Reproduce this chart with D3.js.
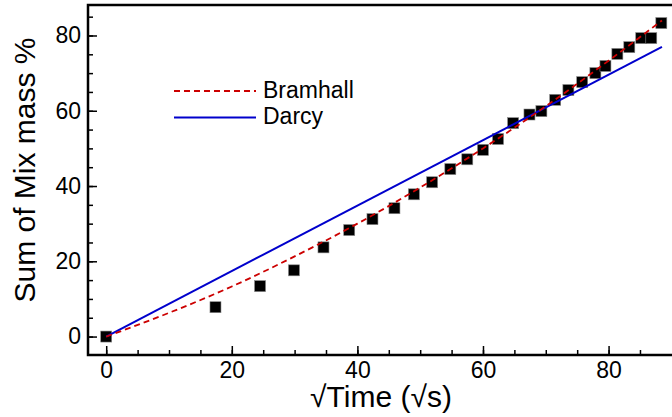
<!DOCTYPE html>
<html>
<head>
<meta charset="utf-8">
<script src="https://cdn.jsdelivr.net/npm/d3@7"></script>
<style>
  body { margin: 0; background: #fff; }
  svg { font-family: "Liberation Sans", Arial, Helvetica, sans-serif; }
</style>
</head>
<body>
<svg id="Target" width="672" height="417"></svg>
<script>
// measured points (√s, %)
const sqrtTime = [0, 17.4, 24.5, 29.9, 34.6, 38.7, 42.4, 45.9, 49.0, 51.9, 54.8, 57.5, 60.0, 62.4, 64.8, 67.4, 69.3, 71.5, 73.6, 75.8, 77.9, 79.5, 81.4, 83.3, 85.2, 86.8, 88.4];
const massPct = [0, 7.8, 13.4, 17.6, 23.7, 28.3, 31.2, 34.1, 37.8, 41.0, 44.5, 47.1, 49.6, 52.5, 56.7, 59.0, 59.9, 62.9, 65.5, 67.6, 70.0, 71.9, 75.1, 76.9, 79.3, 79.3, 83.3];

// model curves
const bramhallX = [0, 10, 20, 30, 40, 50, 60, 70, 80, 88.5];
const bramhallY = [0, 6.3, 13.3, 21.3, 30.0, 39.6, 50.0, 61.2, 73.3, 84.0];
const darcyX = [0, 88.5];
const darcyY = [0, 77.0];

const xTicks = [0, 20, 40, 60, 80];
const yTicks = [0, 20, 40, 60, 80];
const minorTicks = d3.range(0, 90, 5);

const legendNames = ["Bramhall", "Darcy"];

const svg = d3.select("#Target");

const x = d3.scaleLinear().domain([-2.9, 90.1]).range([88, 672]);
const y = d3.scaleLinear().domain([-4.9, 88.1]).range([355, 5]);

// markers first, fitted lines drawn over them
svg.append("g")
    .selectAll("rect")
    .data(sqrtTime.map((t, i) => [t, massPct[i]]))
    .join("rect")
    .attr("x", d => x(d[0]) - 5.5)
    .attr("y", d => y(d[1]) - 5.5)
    .attr("width", 11)
    .attr("height", 11)
    .attr("fill", "#000")
    .attr("stroke", "#888")
    .attr("stroke-width", 0.6);

const line = d3.line().x(d => x(d[0])).y(d => y(d[1])).curve(d3.curveMonotoneX);

svg.append("path")
    .datum(darcyX.map((t, i) => [t, darcyY[i]]))
    .attr("d", line)
    .attr("fill", "none")
    .attr("stroke", "#0000cc")
    .attr("stroke-width", 2);

svg.append("path")
    .datum(bramhallX.map((t, i) => [t, bramhallY[i]]))
    .attr("d", line)
    .attr("fill", "none")
    .attr("stroke", "#cc0000")
    .attr("stroke-width", 1.8)
    .attr("stroke-dasharray", "6,4");

// axes, ticks pointing inward
const styleAxis = g => {
    g.select(".domain").remove();
    g.selectAll("line").attr("stroke", "#000").attr("stroke-width", 1.5);
};

svg.append("g")
    .attr("transform", `translate(0,${y.range()[0]})`)
    .call(d3.axisBottom(x).tickValues(minorTicks).tickSize(-5).tickFormat(""))
    .call(styleAxis);

svg.append("g")
    .attr("transform", `translate(${x.range()[0]},0)`)
    .call(d3.axisLeft(y).tickValues(minorTicks).tickSize(-5).tickFormat(""))
    .call(styleAxis);

svg.append("g")
    .attr("transform", `translate(0,${y.range()[0]})`)
    .call(d3.axisBottom(x).tickValues(xTicks).tickSize(-9).tickPadding(7).tickFormat(d3.format("d")))
    .call(styleAxis)
    .call(g => g.selectAll("text").attr("font-size", 23).attr("fill", "#000"));

svg.append("g")
    .attr("transform", `translate(${x.range()[0]},0)`)
    .call(d3.axisLeft(y).tickValues(yTicks).tickSize(-9).tickPadding(7).tickFormat(d3.format("d")))
    .call(styleAxis)
    .call(g => g.selectAll("text").attr("font-size", 23).attr("fill", "#000"));

// frame: left, bottom, top
svg.append("path")
    .attr("d", `M672,${y.range()[1]}H${x.range()[0]}V${y.range()[0]}H672`)
    .attr("fill", "none")
    .attr("stroke", "#000")
    .attr("stroke-width", 2.5);

// axis titles
svg.append("text")
    .attr("x", 381)
    .attr("y", 407)
    .attr("text-anchor", "middle")
    .attr("font-size", 30)
    .text("√Time (√s)");

svg.append("text")
    .attr("transform", "translate(35,170) rotate(-90)")
    .attr("text-anchor", "middle")
    .attr("font-size", 30)
    .text("Sum of Mix mass %");

// legend
const legend = svg.append("g");
legendNames.forEach((name, i) => {
    const ly = 91 + i * 26.5;
    legend.append("line")
        .attr("x1", 174).attr("x2", 256)
        .attr("y1", ly).attr("y2", ly)
        .attr("stroke", i === 0 ? "#cc0000" : "#0000cc")
        .attr("stroke-width", i === 0 ? 1.8 : 2)
        .attr("stroke-dasharray", i === 0 ? "6,4" : null);
    legend.append("text")
        .attr("x", 263)
        .attr("y", ly + 6.5)
        .attr("font-size", 23)
        .text(name);
});
</script>
</body>
</html>
